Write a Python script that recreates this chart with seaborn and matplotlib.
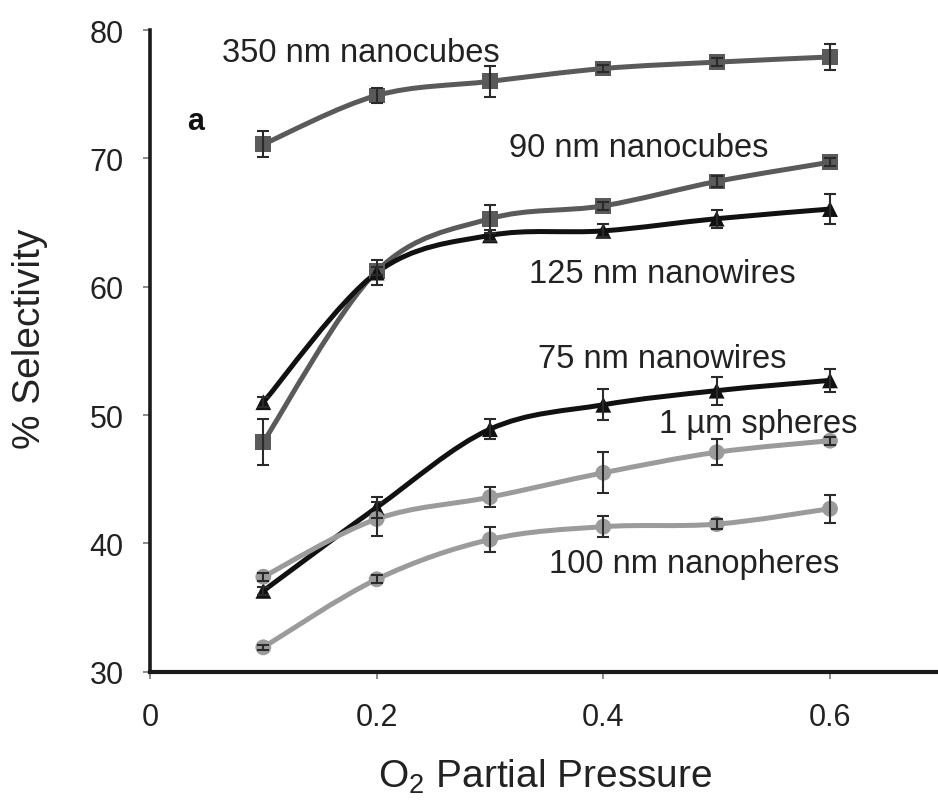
import numpy as np
import pandas as pd
import matplotlib
matplotlib.use("Agg")
import matplotlib.pyplot as plt
from matplotlib.path import Path
from matplotlib.patches import PathPatch
import seaborn as sns

# O2 partial pressure levels
pressure = [0.1, 0.2, 0.3, 0.4, 0.5, 0.6]

# % selectivity per catalyst morphology, with error bar half-widths
cubes_350 = [71.1, 74.9, 76.0, 77.0, 77.5, 77.9]
cubes_350_err = [1.0, 0.6, 1.2, 0.3, 0.3, 1.0]
cubes_90 = [47.9, 61.2, 65.3, 66.3, 68.2, 69.7]
cubes_90_err = [1.8, 0.3, 1.1, 0.3, 0.4, 0.3]
wires_125 = [51.0, 61.1, 64.0, 64.35, 65.3, 66.05]
wires_125_err = [0.4, 1.0, 0.4, 0.5, 0.7, 1.2]
wires_75 = [36.3, 42.8, 48.9, 50.8, 51.9, 52.7]
wires_75_err = [0.3, 0.8, 0.8, 1.2, 1.1, 0.9]
spheres_1um = [37.4, 41.9, 43.6, 45.5, 47.1, 48.0]
spheres_1um_err = [0.3, 1.3, 0.8, 1.6, 1.0, 0.3]
spheres_100 = [31.9, 37.2, 40.3, 41.3, 41.5, 42.7]
spheres_100_err = [0.2, 0.3, 1.0, 0.8, 0.4, 1.1]

series_names = ["350 nm nanocubes", "90 nm nanocubes", "125 nm nanowires",
                "75 nm nanowires", "1 \u00b5m spheres", "100 nm nanopheres"]
series_values = [cubes_350, cubes_90, wires_125, wires_75, spheres_1um, spheres_100]
series_errors = [cubes_350_err, cubes_90_err, wires_125_err, wires_75_err,
                 spheres_1um_err, spheres_100_err]

dark, black, light = "#5a5a5a", "#111111", "#9b9b9b"
colors = dict(zip(series_names, [dark, dark, black, black, light, light]))
markers = dict(zip(series_names, ["s", "s", "^", "^", "o", "o"]))

# label anchor positions (data coords, baseline)
label_pos = {
    "350 nm nanocubes": (0.186, 77.6),
    "90 nm nanocubes": (0.431, 70.2),
    "125 nm nanowires": (0.452, 60.4),
    "75 nm nanowires": (0.452, 53.75),
    "1 \u00b5m spheres": (0.537, 48.7),
    "100 nm nanopheres": (0.480, 37.8),
}

df = pd.DataFrame({
    "pressure": np.tile(pressure, len(series_names)),
    "selectivity": np.concatenate(series_values),
    "err": np.concatenate(series_errors),
    "sample": np.repeat(series_names, len(pressure)),
})

sns.set_theme(style="ticks")
plt.rcParams["font.family"] = ["Liberation Sans", "DejaVu Sans"]
plt.rcParams["mathtext.fontset"] = "custom"
plt.rcParams["mathtext.rm"] = "Liberation Sans"

fig = plt.figure(figsize=(9.38, 8.04), dpi=100)
ax = fig.add_axes([0.1599, 0.1633, 0.8401, 0.7981])


def smooth_path(xs, ys):
    """Cubic Bezier path through the points (spreadsheet-style smoothed line)."""
    n = len(xs)
    verts = [(xs[0], ys[0])]
    codes = [Path.MOVETO]
    for i in range(n - 1):
        a = i - 1 if i > 0 else i
        d = i + 2 if i + 2 < n else i + 1
        c1 = (xs[i] + (xs[i + 1] - xs[a]) / 6, ys[i] + (ys[i + 1] - ys[a]) / 6)
        c2 = (xs[i + 1] - (xs[d] - xs[i]) / 6, ys[i + 1] - (ys[d] - ys[i]) / 6)
        verts += [c1, c2, (xs[i + 1], ys[i + 1])]
        codes += [Path.CURVE4] * 3
    return Path(verts, codes)


for name, vals in zip(series_names, series_values):
    ax.add_patch(PathPatch(smooth_path(pressure, vals), facecolor="none",
                           edgecolor=colors[name], lw=3.6, capstyle="round",
                           joinstyle="round", zorder=2))

sns.scatterplot(data=df, x="pressure", y="selectivity", hue="sample",
                style="sample", palette=colors, markers=markers, s=130,
                edgecolor="none", legend=False, ax=ax, zorder=3)

for name, vals, errs in zip(series_names, series_values, series_errors):
    ax.errorbar(pressure, vals, yerr=errs, fmt="none", ecolor="#2a2a2a",
                elinewidth=1.5, capsize=4.5, capthick=1.5, zorder=4)

for name, (tx, ty) in label_pos.items():
    ax.text(tx, ty, name, ha="center", va="baseline", fontsize=23.5,
            color="#222222", zorder=5)
ax.text(0.0406, 72.3, "a", ha="center", va="baseline", fontsize=22,
        fontweight="bold", color="#111111")

ax.set_xlim(0, 0.6953)
ax.set_ylim(30, 80)
ax.set_xticks([0, 0.2, 0.4, 0.6])
ax.set_xticklabels(["0", "0.2", "0.4", "0.6"])
ax.set_yticks([30, 40, 50, 60, 70, 80])

ax.set_xlabel("O$_2$ Partial Pressure", fontsize=28, color="#222222")
ax.set_ylabel("% Selectivity", fontsize=28, color="#222222")
ax.xaxis.set_label_coords(0.501, -0.133)
ax.yaxis.set_label_coords(-0.129, 0.52)

ax.tick_params(axis="both", direction="out", length=5, width=1.2,
               color="#777777", labelsize=22, labelcolor="#222222")
ax.tick_params(axis="y", pad=14)
ax.tick_params(axis="x", pad=17)

for side in ("top", "right"):
    ax.spines[side].set_visible(False)
ax.spines["left"].set_linewidth(2.6)
ax.spines["bottom"].set_linewidth(3.0)
ax.spines["left"].set_color("#1a1a1a")
ax.spines["bottom"].set_color("#1a1a1a")
ax.set_facecolor("white")
fig.patch.set_facecolor("white")

fig.savefig("out.png", dpi=100, facecolor="white")
